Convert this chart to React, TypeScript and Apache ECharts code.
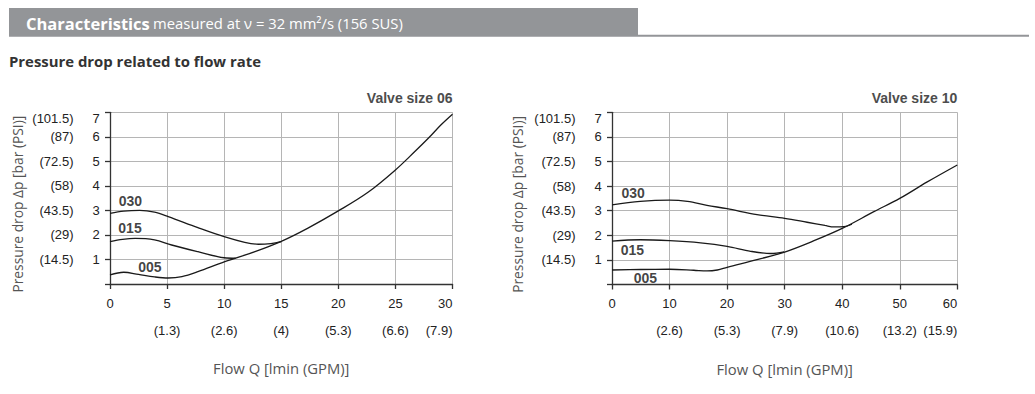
import React, { useEffect, useRef } from "react";
import * as echarts from "echarts";

// ---- data ----
const curveNames = ["030", "015", "005"];

const yBarTicks = ["", "1", "2", "3", "4", "5", "6", "7"];
const yPsiTicks = ["", "(14.5)", "(29)", "(43.5)", "(58)", "(72.5)", "(87)", "(101.5)"];

const x06Gpm = ["", "(1.3)", "(2.6)", "(4)", "(5.3)", "(6.6)", "(7.9)"];
const x10Gpm = ["", "(2.6)", "(5.3)", "(7.9)", "(10.6)", "(13.2)", "(15.9)"];

const valve06_030 = [[0, 2.88], [1.2, 2.97], [2.6, 3.0], [3.9, 2.93], [5.1, 2.75], [7.7, 2.3], [10, 1.93], [11.8, 1.7], [13, 1.62], [14.1, 1.65], [15, 1.73]];
const valve06_015 = [[0, 1.73], [1.1, 1.82], [2.2, 1.86], [3.9, 1.8], [5.4, 1.59], [7.7, 1.32], [10, 1.07], [11, 1.05]];
const valve06_005 = [[0, 0.37], [1.2, 0.48], [2.5, 0.39], [3.9, 0.29], [5.1, 0.245], [6.3, 0.3], [7.7, 0.5], [10, 0.9], [12.7, 1.32], [15, 1.74], [17.3, 2.27], [20, 2.98], [22.6, 3.74], [25, 4.65], [26.7, 5.4], [27.9, 5.95], [29, 6.49], [30, 6.92]];
const valve06_labelPos = [[1.78, 3.4], [1.75, 2.3], [3.5, 0.68]];

const valve10_030 = [[0, 3.24], [4.9, 3.38], [10, 3.43], [13.1, 3.38], [16.5, 3.22], [20, 3.08], [25.2, 2.84], [30, 2.69], [33.9, 2.53], [37, 2.4], [38.6, 2.34], [40.3, 2.35], [41.7, 2.45]];
const valve10_015 = [[0, 1.76], [4.9, 1.82], [10, 1.78], [15.4, 1.69], [20, 1.55], [24.1, 1.35], [27.6, 1.26], [29.9, 1.33]];
const valve10_005 = [[0, 0.59], [5, 0.61], [10, 0.62], [14.2, 0.58], [16.5, 0.55], [18.3, 0.59], [20, 0.7], [25.2, 1.01], [30, 1.32], [35.1, 1.78], [40, 2.28], [45.5, 2.96], [50, 3.5], [54.7, 4.16], [60, 4.86]];
const valve10_labelPos = [[3.66, 3.73], [3.54, 1.41], [5.8, 0.26]];

// ---- styles ----
const W = 1035;
const H = 394;
const TICK_FONT = "'Liberation Sans', Arial, sans-serif";
const TEXT_FONT = "'Open Sans', 'Noto Sans', sans-serif";
const AXIS_DARK = "#333333";
const GRID_GRAY = "#b5b5b5";
const HEADER_GRAY = "#939598";

const grids = [
  { left: 110, right: W - 452.5, top: 112.3, height: 171.7, yNameGap: 58, xMax: 30, xInt: 5, gpm: x06Gpm, title: "Valve size 06" },
  { left: 612, right: W - 957.3, top: 112.3, height: 172.2, yNameGap: 60, xMax: 60, xInt: 10, gpm: x10Gpm, title: "Valve size 10" },
];

const seriesSets = [
  { curves: [valve06_030, valve06_015, valve06_005], labels: valve06_labelPos },
  { curves: [valve10_030, valve10_015, valve10_005], labels: valve10_labelPos },
];

const tickRich = {
  t: { fontFamily: TICK_FONT, fontSize: 13, color: "#222", padding: [12, 0, 0, 0] },
};

function yLabel(list: string[], v: number) {
  const i = Math.round(v);
  const s = list[i] ?? "";
  if (i === 7 && s) return "{t|" + s + "}";
  return s;
}

function buildOption() {
  const grid: any[] = [];
  const xAxis: any[] = [];
  const yAxis: any[] = [];
  const series: any[] = [];
  const graphic: any[] = [];

  grids.forEach((g, i) => {
    grid.push({ left: g.left, right: g.right, top: g.top, height: g.height, containLabel: false });
    // main x axis (line, ticks, lmin labels above line)
    xAxis.push({
      gridIndex: i,
      type: "value",
      min: 0,
      max: g.xMax,
      interval: g.xInt,
      position: "bottom",
      offset: 28.5,
      axisLine: { show: true, lineStyle: { color: AXIS_DARK, width: 1.3 } },
      axisTick: { show: true, inside: false, length: 5, lineStyle: { color: AXIS_DARK, width: 1.3 } },
      axisLabel: {
        inside: true,
        margin: 3,
        color: "#222",
        fontFamily: TICK_FONT,
        fontSize: 13,
        alignMaxLabel: "right",
      },
      splitLine: { show: true, lineStyle: { color: GRID_GRAY, width: 1 } },
    });
    // GPM x axis
    xAxis.push({
      gridIndex: i,
      type: "value",
      min: 0,
      max: g.xMax,
      interval: g.xInt,
      position: "bottom",
      offset: 28.5,
      axisLine: { show: false },
      axisTick: { show: false },
      splitLine: { show: false },
      axisLabel: {
        margin: 11,
        color: "#222",
        fontFamily: TICK_FONT,
        fontSize: 13,
        alignMaxLabel: "right",
        formatter: (v: number) => g.gpm[Math.round(v / g.xInt)] ?? "",
      },
      name: "Flow Q [lmin (GPM)]",
      nameLocation: "middle",
      nameGap: 48,
      nameMoveOverlap: false,
      nameTextStyle: { fontFamily: TEXT_FONT, fontSize: 14.8, color: "#555" },
    });
    // main y axis (line, ticks, PSI labels)
    yAxis.push({
      gridIndex: i,
      type: "value",
      min: 0,
      max: 7,
      interval: 1,
      position: "left",
      offset: 27.5,
      axisLine: { show: true, lineStyle: { color: AXIS_DARK, width: 1.3 } },
      axisTick: { show: true, inside: false, length: 5, lineStyle: { color: AXIS_DARK, width: 1.3 } },
      axisLabel: {
        margin: 9,
        color: "#222",
        fontFamily: TICK_FONT,
        fontSize: 13,
        formatter: (v: number) => yLabel(yPsiTicks, v),
        rich: tickRich,
      },
      splitLine: { show: true, lineStyle: { color: GRID_GRAY, width: 1 } },
      name: "Pressure drop \u0394p [bar (PSI)]",
      nameLocation: "middle",
      nameRotate: 90,
      nameGap: g.yNameGap,
      nameMoveOverlap: false,
      nameTextStyle: { fontFamily: TEXT_FONT, fontSize: 13.8, color: "#555", padding: [0, 12, 0, 0] },
    });
    // bar labels y axis
    yAxis.push({
      gridIndex: i,
      type: "value",
      min: 0,
      max: 7,
      interval: 1,
      position: "left",
      offset: 27.5,
      axisLine: { show: false },
      axisTick: { show: false },
      splitLine: { show: false },
      axisLabel: {
        inside: true,
        margin: 10,
        color: "#222",
        fontFamily: TICK_FONT,
        fontSize: 13,
        formatter: (v: number) => yLabel(yBarTicks, v),
        rich: tickRich,
      },
    });

    const set = seriesSets[i];
    set.curves.forEach((data, k) => {
      series.push({
        type: "line",
        name: curveNames[k] + "-" + i,
        xAxisIndex: i * 2,
        yAxisIndex: i * 2,
        data,
        smooth: 0.35,
        showSymbol: false,
        symbol: "none",
        silent: true,
        lineStyle: { color: "#1a1a1a", width: 1.3 },
        z: 3,
      });
    });
    series.push({
      type: "scatter",
      xAxisIndex: i * 2,
      yAxisIndex: i * 2,
      symbolSize: 1,
      itemStyle: { color: "rgba(0,0,0,0)" },
      silent: true,
      data: set.labels.map((p, k) => ({ name: curveNames[k], value: p })),
      label: {
        show: true,
        position: "inside",
        formatter: (p: any) => p.name,
        fontFamily: TICK_FONT,
        fontWeight: "bold",
        fontSize: 14,
        color: "#111",
      },
      z: 4,
    });

    graphic.push({
      type: "text",
      x: W - g.right,
      y: 97.5,
      style: {
        text: g.title,
        align: "right",
        verticalAlign: "middle",
        fontFamily: TICK_FONT,
        fontWeight: "bold",
        fontSize: 14,
        fill: "#4d4d4d",
      },
    });
  });

  // header band
  graphic.push({ type: "rect", shape: { x: 9, y: 8, width: 629, height: 28.7 }, style: { fill: HEADER_GRAY } });
  graphic.push({ type: "rect", shape: { x: 638, y: 34.7, width: 391, height: 2 }, style: { fill: HEADER_GRAY } });
  graphic.push({
    type: "text",
    x: 26,
    y: 23,
    style: {
      text: "{b|Characteristics} {r|measured at \u03bd = 32 mm\u00b2/s (156 SUS)}",
      verticalAlign: "middle",
      rich: {
        b: { fontFamily: TEXT_FONT, fontWeight: "bold", fontSize: 16.5, fill: "#ffffff" },
        r: { fontFamily: TEXT_FONT, fontSize: 14.8, fill: "#ffffff" },
      },
    },
  });
  graphic.push({
    type: "text",
    x: 9,
    y: 60.5,
    style: {
      text: "Pressure drop related to flow rate",
      verticalAlign: "middle",
      fontFamily: TEXT_FONT,
      fontWeight: "bold",
      fontSize: 14.9,
      fill: "#333333",
    },
  });

  return {
    animation: false,
    backgroundColor: "#ffffff",
    grid,
    xAxis,
    yAxis,
    series,
    graphic,
  };
}

export default function App() {
  const ref = useRef<HTMLDivElement>(null);
  useEffect(() => {
    if (!ref.current) return;
    const chart = echarts.init(ref.current, undefined, { renderer: "svg" });
    chart.setOption(buildOption() as any);
    return () => chart.dispose();
  }, []);
  return (
    <div
      ref={ref}
      style={{ position: "fixed", left: 0, top: 0, width: W, height: H, background: "#fff" }}
    />
  );
}
